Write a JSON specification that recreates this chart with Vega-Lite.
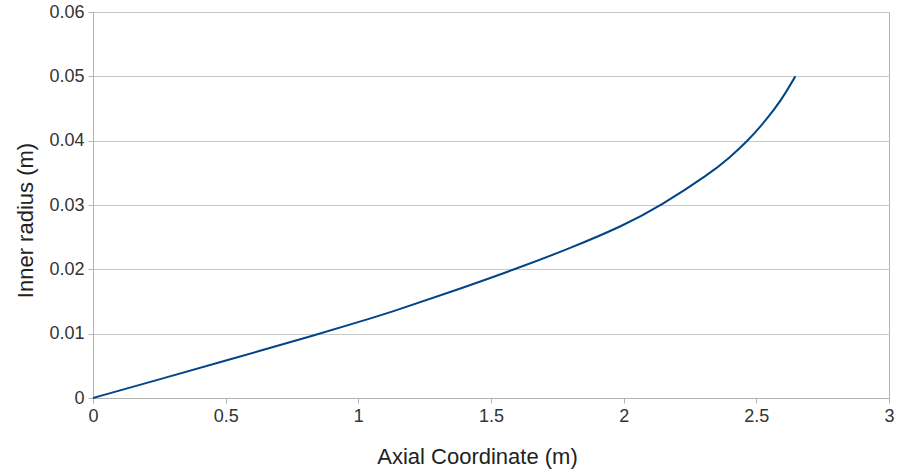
{
  "$schema": "https://vega.github.io/schema/vega-lite/v6.json",
  "width": 796,
  "height": 386,
  "autosize": "none",
  "padding": {"left": 93, "top": 12, "right": 8, "bottom": 76},
  "background": "white",
  "config": {
    "view": {"stroke": "#b3b3b3", "strokeWidth": 1},
    "font": "Liberation Sans"
  },
  "data": {
    "values": [
      {"x": 0, "y": 0},
      {"x": 0.25, "y": 0.0029},
      {"x": 0.5, "y": 0.0058},
      {"x": 0.856, "y": 0.01},
      {"x": 1.0, "y": 0.0118},
      {"x": 1.12, "y": 0.0133},
      {"x": 1.35, "y": 0.0165},
      {"x": 1.59, "y": 0.02},
      {"x": 1.8, "y": 0.0233},
      {"x": 2.0, "y": 0.0268},
      {"x": 2.14, "y": 0.0299},
      {"x": 2.326, "y": 0.0349},
      {"x": 2.4, "y": 0.0374},
      {"x": 2.466, "y": 0.0399},
      {"x": 2.52, "y": 0.0424},
      {"x": 2.571, "y": 0.045},
      {"x": 2.61, "y": 0.0474},
      {"x": 2.647, "y": 0.05}
    ]
  },
  "mark": {"type": "line", "color": "#004586", "strokeWidth": 2, "interpolate": "basis"},
  "encoding": {
    "x": {
      "field": "x",
      "type": "quantitative",
      "scale": {"domain": [0, 3], "nice": false, "zero": false},
      "axis": {
        "title": "Axial Coordinate (m)",
        "values": [0, 0.5, 1, 1.5, 2, 2.5, 3],
        "format": "~g",
        "grid": false,
        "labelFlush": false,
        "domainColor": "#b3b3b3",
        "tickColor": "#b3b3b3",
        "tickSize": 5,
        "labelPadding": 4,
        "labelFontSize": 18,
        "labelColor": "#333333",
        "labelFont": "Liberation Sans",
        "titleFont": "Liberation Sans",
        "titleFontSize": 22,
        "titleFontWeight": "normal",
        "titleColor": "#222222",
        "titleX": 384,
        "titleY": 65,
        "titleBaseline": "alphabetic",
        "titleAlign": "center"
      }
    },
    "y": {
      "field": "y",
      "type": "quantitative",
      "scale": {"domain": [0, 0.06], "nice": false},
      "axis": {
        "title": "Inner radius (m)",
        "values": [0, 0.01, 0.02, 0.03, 0.04, 0.05, 0.06],
        "format": "~g",
        "grid": true,
        "gridColor": "#c8c8c8",
        "labelFlush": false,
        "domainColor": "#b3b3b3",
        "tickColor": "#b3b3b3",
        "tickSize": 5,
        "labelPadding": 4,
        "labelFontSize": 18,
        "labelColor": "#333333",
        "labelFont": "Liberation Sans",
        "titleFont": "Liberation Sans",
        "titleFontSize": 22,
        "titleFontWeight": "normal",
        "titleColor": "#222222",
        "titleX": -61,
        "titleY": 208,
        "titleBaseline": "alphabetic",
        "titleAlign": "center",
        "titleAngle": -90
      }
    }
  }
}
